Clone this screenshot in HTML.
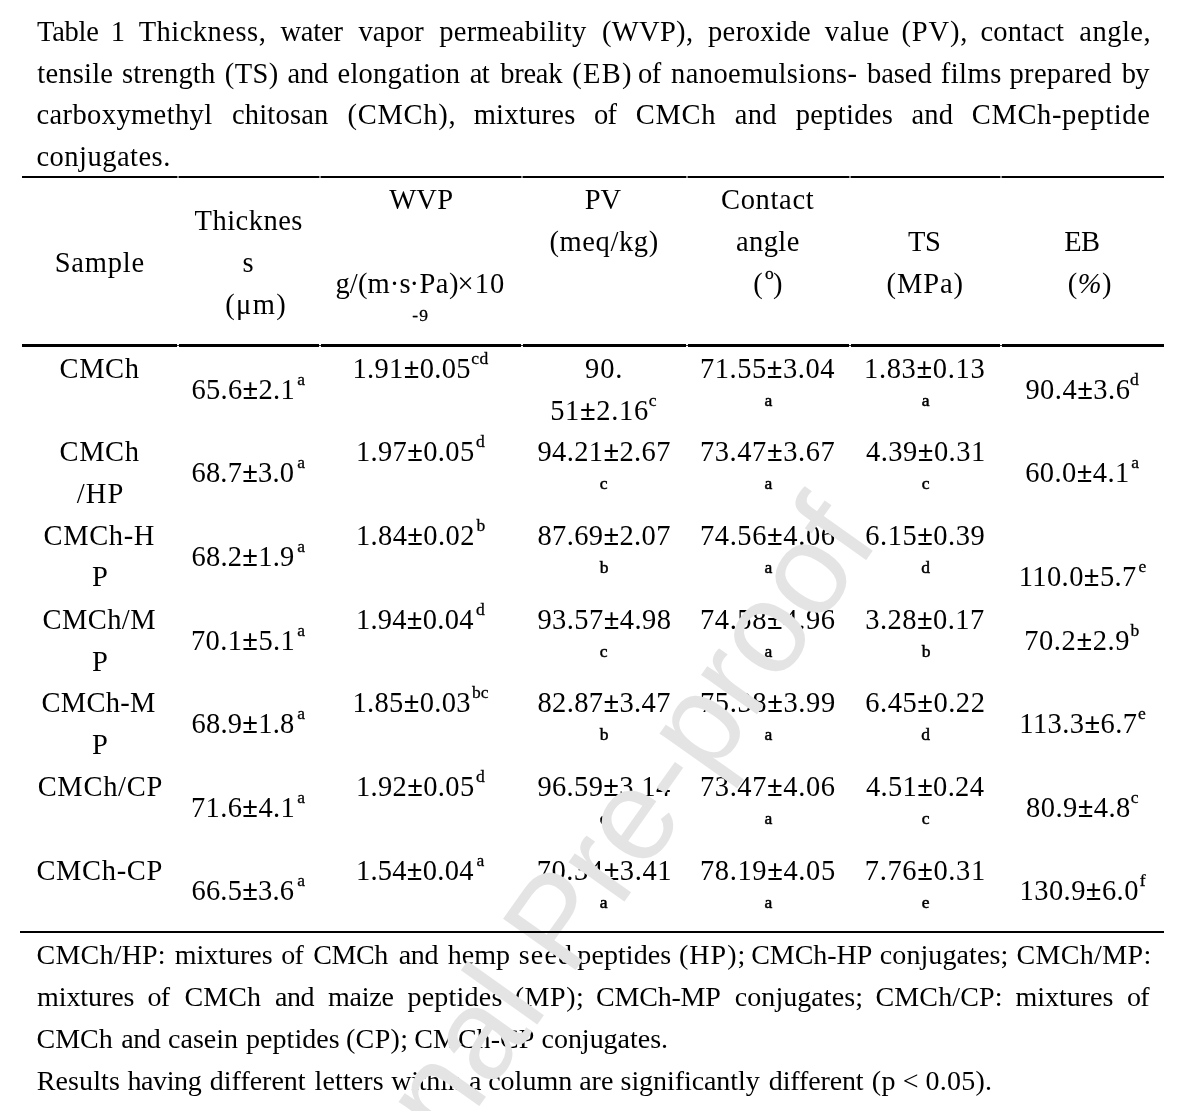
<!DOCTYPE html>
<html><head><meta charset="utf-8"><title>Table 1</title>
<style>
html,body{margin:0;padding:0;background:#fff;}
body{width:1179px;height:1111px;position:relative;overflow:hidden;font-family:"Liberation Serif",serif;color:#000;}
.t{position:absolute;white-space:pre;line-height:1;}
#pg{position:absolute;left:0;top:0;width:1179px;height:1111px;overflow:hidden;will-change:transform;filter:grayscale(1);background:#fff;}
.r{position:absolute;background:#000;z-index:3;}
.wm{position:absolute;white-space:pre;line-height:1;font-family:"Liberation Sans",sans-serif;z-index:2;transform-origin:50% 50%;}
.t{z-index:1;}
</style></head><body><div id="pg">
<span class="t" style="left:37.00px;top:18.00px;font-size:28.5px;letter-spacing:-0.275px;">Table</span>
<span class="t" style="left:110.70px;top:18.00px;font-size:28.5px;">1</span>
<span class="t" style="left:138.70px;top:18.00px;font-size:28.5px;letter-spacing:0.489px;">Thickness,</span>
<span class="t" style="left:280.40px;top:18.00px;font-size:28.5px;letter-spacing:-0.150px;">water</span>
<span class="t" style="left:358.40px;top:18.00px;font-size:28.5px;letter-spacing:0.113px;">vapor</span>
<span class="t" style="left:439.20px;top:18.00px;font-size:28.5px;letter-spacing:0.273px;">permeability</span>
<span class="t" style="left:601.95px;top:18.00px;font-size:28.5px;letter-spacing:0.340px;">(WVP),</span>
<span class="t" style="left:707.90px;top:18.00px;font-size:28.5px;letter-spacing:0.450px;">peroxide</span>
<span class="t" style="left:824.80px;top:18.00px;font-size:28.5px;letter-spacing:0.663px;">value</span>
<span class="t" style="left:901.55px;top:18.00px;font-size:28.5px;letter-spacing:0.825px;">(PV),</span>
<span class="t" style="left:980.50px;top:18.00px;font-size:28.5px;letter-spacing:0.208px;">contact</span>
<span class="t" style="left:1079.30px;top:18.00px;font-size:28.5px;letter-spacing:0.500px;">angle,</span>
<span class="t" style="left:37.25px;top:60.00px;font-size:28.5px;letter-spacing:0.225px;">tensile</span>
<span class="t" style="left:122.05px;top:60.00px;font-size:28.5px;letter-spacing:0.193px;">strength</span>
<span class="t" style="left:224.85px;top:60.00px;font-size:28.5px;letter-spacing:0.383px;">(TS)</span>
<span class="t" style="left:287.50px;top:60.00px;font-size:28.5px;letter-spacing:-0.175px;">and</span>
<span class="t" style="left:337.60px;top:60.00px;font-size:28.5px;letter-spacing:0.222px;">elongation</span>
<span class="t" style="left:469.70px;top:60.00px;font-size:28.5px;letter-spacing:-0.600px;">at</span>
<span class="t" style="left:500.30px;top:60.00px;font-size:28.5px;letter-spacing:-0.288px;">break</span>
<span class="t" style="left:572.35px;top:60.00px;font-size:28.5px;letter-spacing:1.233px;">(EB)</span>
<span class="t" style="left:638.02px;top:60.00px;font-size:28.5px;letter-spacing:-0.600px;">of</span>
<span class="t" style="left:671.00px;top:60.00px;font-size:28.5px;letter-spacing:0.431px;">nanoemulsions-</span>
<span class="t" style="left:867.00px;top:60.00px;font-size:28.5px;letter-spacing:-0.050px;">based</span>
<span class="t" style="left:940.65px;top:60.00px;font-size:28.5px;letter-spacing:0.537px;">films</span>
<span class="t" style="left:1009.50px;top:60.00px;font-size:28.5px;letter-spacing:0.321px;">prepared</span>
<span class="t" style="left:1121.65px;top:60.00px;font-size:28.5px;letter-spacing:-0.600px;">by</span>
<span class="t" style="left:36.50px;top:101.00px;font-size:28.5px;letter-spacing:0.392px;">carboxymethyl</span>
<span class="t" style="left:231.90px;top:101.00px;font-size:28.5px;letter-spacing:0.214px;">chitosan</span>
<span class="t" style="left:347.55px;top:101.00px;font-size:28.5px;letter-spacing:0.708px;">(CMCh),</span>
<span class="t" style="left:473.70px;top:101.00px;font-size:28.5px;letter-spacing:0.264px;">mixtures</span>
<span class="t" style="left:593.92px;top:101.00px;font-size:28.5px;letter-spacing:-0.600px;">of</span>
<span class="t" style="left:635.75px;top:101.00px;font-size:28.5px;letter-spacing:0.733px;">CMCh</span>
<span class="t" style="left:734.80px;top:101.00px;font-size:28.5px;letter-spacing:0.225px;">and</span>
<span class="t" style="left:795.80px;top:101.00px;font-size:28.5px;letter-spacing:0.286px;">peptides</span>
<span class="t" style="left:911.50px;top:101.00px;font-size:28.5px;letter-spacing:0.225px;">and</span>
<span class="t" style="left:971.75px;top:101.00px;font-size:28.5px;letter-spacing:0.650px;">CMCh-peptide</span>
<span class="t" style="left:36.50px;top:143.00px;font-size:28.5px;letter-spacing:0.475px;">conjugates.</span>
<span class="t" style="left:54.70px;top:249.00px;font-size:28.5px;letter-spacing:0.800px;">Sample</span>
<span class="t" style="left:194.60px;top:207.00px;font-size:28.5px;letter-spacing:0.471px;">Thicknes</span>
<span class="t" style="left:242.62px;top:249.00px;font-size:28.5px;">s</span>
<span class="t" style="left:225.30px;top:291.00px;font-size:28.5px;letter-spacing:1.300px;">(μm)</span>
<span class="t" style="left:389.20px;top:186.00px;font-size:28.5px;letter-spacing:0.275px;">WVP</span>
<span class="t" style="left:335.45px;top:270.00px;font-size:28.5px;letter-spacing:0.150px;">g/(m·s</span>
<span class="t" style="left:409.60px;top:270.00px;font-size:28.5px;letter-spacing:0.450px;">·Pa)</span>
<span class="t" style="left:457.55px;top:270.00px;font-size:28.5px;letter-spacing:1.125px;">×10</span>
<span class="t" style="left:412.30px;top:307.00px;font-size:17.5px;letter-spacing:1.200px;-webkit-text-stroke:0.3px #000;">-9</span>
<span class="t" style="left:584.75px;top:186.00px;font-size:28.5px;letter-spacing:-0.200px;">PV</span>
<span class="t" style="left:549.45px;top:228.00px;font-size:28.5px;letter-spacing:0.614px;">(meq/kg)</span>
<span class="t" style="left:721.05px;top:186.00px;font-size:28.5px;letter-spacing:0.658px;">Contact</span>
<span class="t" style="left:735.90px;top:228.00px;font-size:28.5px;letter-spacing:0.438px;">angle</span>
<span class="t" style="left:753.33px;top:270.00px;font-size:28.5px;">(</span>
<span class="t" style="left:764.92px;top:265.00px;font-size:17.5px;-webkit-text-stroke:0.3px #000;">o</span>
<span class="t" style="left:773.08px;top:270.00px;font-size:28.5px;">)</span>
<span class="t" style="left:908.00px;top:228.00px;font-size:28.5px;letter-spacing:-0.300px;">TS</span>
<span class="t" style="left:886.55px;top:270.00px;font-size:28.5px;letter-spacing:0.888px;">(MPa)</span>
<span class="t" style="left:1064.17px;top:228.00px;font-size:28.5px;letter-spacing:-0.600px;">EB</span>
<span class="t" style="left:1067.75px;top:270.00px;font-size:28.5px;letter-spacing:0.525px;">(<i>%</i>)</span>
<span class="t" style="left:59.55px;top:355.00px;font-size:28.5px;letter-spacing:0.600px;">CMCh</span>
<span class="t" style="left:191.45px;top:376.00px;font-size:28.5px;letter-spacing:0.307px;">65.6<b>±</b>2.1</span>
<span class="t" style="left:297.27px;top:371.00px;font-size:17.5px;-webkit-text-stroke:0.3px #000;">a</span>
<span class="t" style="left:352.50px;top:355.00px;font-size:28.5px;letter-spacing:0.331px;">1.91<b>±</b>0.05</span>
<span class="t" style="left:471.30px;top:350.00px;font-size:17.5px;letter-spacing:0.400px;-webkit-text-stroke:0.3px #000;">cd</span>
<span class="t" style="left:585.00px;top:355.00px;font-size:28.5px;letter-spacing:0.925px;">90.</span>
<span class="t" style="left:550.15px;top:397.00px;font-size:28.5px;letter-spacing:0.667px;">51<b>±</b>2.16</span>
<span class="t" style="left:648.75px;top:392.00px;font-size:17.5px;-webkit-text-stroke:0.3px #000;">c</span>
<span class="t" style="left:699.95px;top:355.00px;font-size:28.5px;letter-spacing:0.544px;">71.55<b>±</b>3.04</span>
<span class="t" style="left:764.50px;top:392.00px;font-size:17.5px;-webkit-text-stroke:0.5px #000;">a</span>
<span class="t" style="left:864.00px;top:355.00px;font-size:28.5px;letter-spacing:0.656px;">1.83<b>±</b>0.13</span>
<span class="t" style="left:921.80px;top:392.00px;font-size:17.5px;-webkit-text-stroke:0.5px #000;">a</span>
<span class="t" style="left:1025.40px;top:376.00px;font-size:28.5px;letter-spacing:0.479px;">90.4<b>±</b>3.6</span>
<span class="t" style="left:1129.88px;top:371.00px;font-size:17.5px;-webkit-text-stroke:0.3px #000;">d</span>
<span class="t" style="left:59.55px;top:438.00px;font-size:28.5px;letter-spacing:0.600px;">CMCh</span>
<span class="t" style="left:76.80px;top:480.00px;font-size:28.5px;letter-spacing:1.075px;">/HP</span>
<span class="t" style="left:191.45px;top:459.00px;font-size:28.5px;letter-spacing:0.200px;">68.7<b>±</b>3.0</span>
<span class="t" style="left:297.27px;top:454.00px;font-size:17.5px;-webkit-text-stroke:0.3px #000;">a</span>
<span class="t" style="left:355.90px;top:438.00px;font-size:28.5px;letter-spacing:0.356px;">1.97<b>±</b>0.05</span>
<span class="t" style="left:475.88px;top:433.00px;font-size:17.5px;-webkit-text-stroke:0.3px #000;">d</span>
<span class="t" style="left:537.40px;top:438.00px;font-size:28.5px;letter-spacing:0.378px;">94.21<b>±</b>2.67</span>
<span class="t" style="left:599.75px;top:475.00px;font-size:17.5px;-webkit-text-stroke:0.5px #000;">c</span>
<span class="t" style="left:699.95px;top:438.00px;font-size:28.5px;letter-spacing:0.572px;">73.47<b>±</b>3.67</span>
<span class="t" style="left:764.50px;top:475.00px;font-size:17.5px;-webkit-text-stroke:0.5px #000;">a</span>
<span class="t" style="left:866.00px;top:438.00px;font-size:28.5px;letter-spacing:0.469px;">4.39<b>±</b>0.31</span>
<span class="t" style="left:921.80px;top:475.00px;font-size:17.5px;-webkit-text-stroke:0.5px #000;">c</span>
<span class="t" style="left:1025.15px;top:459.00px;font-size:28.5px;letter-spacing:0.436px;">60.0<b>±</b>4.1</span>
<span class="t" style="left:1131.33px;top:454.00px;font-size:17.5px;-webkit-text-stroke:0.3px #000;">a</span>
<span class="t" style="left:43.55px;top:522.00px;font-size:28.5px;letter-spacing:0.640px;">CMCh-H</span>
<span class="t" style="left:92.05px;top:563.00px;font-size:28.5px;">P</span>
<span class="t" style="left:191.45px;top:543.00px;font-size:28.5px;letter-spacing:0.236px;">68.2<b>±</b>1.9</span>
<span class="t" style="left:297.27px;top:538.00px;font-size:17.5px;-webkit-text-stroke:0.3px #000;">a</span>
<span class="t" style="left:355.90px;top:522.00px;font-size:28.5px;letter-spacing:0.388px;">1.84<b>±</b>0.02</span>
<span class="t" style="left:476.50px;top:517.00px;font-size:17.5px;-webkit-text-stroke:0.3px #000;">b</span>
<span class="t" style="left:537.40px;top:522.00px;font-size:28.5px;letter-spacing:0.378px;">87.69<b>±</b>2.07</span>
<span class="t" style="left:599.75px;top:559.00px;font-size:17.5px;-webkit-text-stroke:0.5px #000;">b</span>
<span class="t" style="left:699.95px;top:522.00px;font-size:28.5px;letter-spacing:0.600px;">74.56<b>±</b>4.06</span>
<span class="t" style="left:764.50px;top:559.00px;font-size:17.5px;-webkit-text-stroke:0.5px #000;">a</span>
<span class="t" style="left:865.25px;top:522.00px;font-size:28.5px;letter-spacing:0.500px;">6.15<b>±</b>0.39</span>
<span class="t" style="left:921.30px;top:559.00px;font-size:17.5px;-webkit-text-stroke:0.5px #000;">d</span>
<span class="t" style="left:1018.70px;top:563.00px;font-size:28.5px;letter-spacing:0.412px;">110.0<b>±</b>5.7</span>
<span class="t" style="left:1138.47px;top:558.00px;font-size:17.5px;-webkit-text-stroke:0.3px #000;">e</span>
<span class="t" style="left:42.45px;top:606.00px;font-size:28.5px;letter-spacing:0.450px;">CMCh/M</span>
<span class="t" style="left:92.05px;top:648.00px;font-size:28.5px;">P</span>
<span class="t" style="left:190.95px;top:627.00px;font-size:28.5px;letter-spacing:0.379px;">70.1<b>±</b>5.1</span>
<span class="t" style="left:297.27px;top:622.00px;font-size:17.5px;-webkit-text-stroke:0.3px #000;">a</span>
<span class="t" style="left:355.90px;top:606.00px;font-size:28.5px;letter-spacing:0.263px;">1.94<b>±</b>0.04</span>
<span class="t" style="left:475.88px;top:601.00px;font-size:17.5px;-webkit-text-stroke:0.3px #000;">d</span>
<span class="t" style="left:537.40px;top:606.00px;font-size:28.5px;letter-spacing:0.433px;">93.57<b>±</b>4.98</span>
<span class="t" style="left:599.75px;top:643.00px;font-size:17.5px;-webkit-text-stroke:0.5px #000;">c</span>
<span class="t" style="left:699.95px;top:606.00px;font-size:28.5px;letter-spacing:0.600px;">74.58<b>±</b>4.96</span>
<span class="t" style="left:764.50px;top:643.00px;font-size:17.5px;-webkit-text-stroke:0.5px #000;">a</span>
<span class="t" style="left:865.25px;top:606.00px;font-size:28.5px;letter-spacing:0.438px;">3.28<b>±</b>0.17</span>
<span class="t" style="left:921.80px;top:643.00px;font-size:17.5px;-webkit-text-stroke:0.5px #000;">b</span>
<span class="t" style="left:1024.15px;top:627.00px;font-size:28.5px;letter-spacing:0.607px;">70.2<b>±</b>2.9</span>
<span class="t" style="left:1130.40px;top:622.00px;font-size:17.5px;-webkit-text-stroke:0.3px #000;">b</span>
<span class="t" style="left:41.45px;top:689.00px;font-size:28.5px;letter-spacing:0.300px;">CMCh-M</span>
<span class="t" style="left:92.05px;top:731.00px;font-size:28.5px;">P</span>
<span class="t" style="left:191.45px;top:710.00px;font-size:28.5px;letter-spacing:0.236px;">68.9<b>±</b>1.8</span>
<span class="t" style="left:297.27px;top:705.00px;font-size:17.5px;-webkit-text-stroke:0.3px #000;">a</span>
<span class="t" style="left:352.50px;top:689.00px;font-size:28.5px;letter-spacing:0.331px;">1.85<b>±</b>0.03</span>
<span class="t" style="left:472.05px;top:684.00px;font-size:17.5px;letter-spacing:-0.100px;-webkit-text-stroke:0.3px #000;">bc</span>
<span class="t" style="left:537.40px;top:689.00px;font-size:28.5px;letter-spacing:0.378px;">82.87<b>±</b>3.47</span>
<span class="t" style="left:599.75px;top:726.00px;font-size:17.5px;-webkit-text-stroke:0.5px #000;">b</span>
<span class="t" style="left:699.95px;top:689.00px;font-size:28.5px;letter-spacing:0.628px;">75.38<b>±</b>3.99</span>
<span class="t" style="left:764.50px;top:726.00px;font-size:17.5px;-webkit-text-stroke:0.5px #000;">a</span>
<span class="t" style="left:865.25px;top:689.00px;font-size:28.5px;letter-spacing:0.531px;">6.45<b>±</b>0.22</span>
<span class="t" style="left:921.30px;top:726.00px;font-size:17.5px;-webkit-text-stroke:0.5px #000;">d</span>
<span class="t" style="left:1019.30px;top:710.00px;font-size:28.5px;letter-spacing:0.425px;">113.3<b>±</b>6.7</span>
<span class="t" style="left:1138.03px;top:705.00px;font-size:17.5px;-webkit-text-stroke:0.3px #000;">e</span>
<span class="t" style="left:37.65px;top:773.00px;font-size:28.5px;letter-spacing:0.717px;">CMCh/CP</span>
<span class="t" style="left:190.95px;top:794.00px;font-size:28.5px;letter-spacing:0.379px;">71.6<b>±</b>4.1</span>
<span class="t" style="left:297.27px;top:789.00px;font-size:17.5px;-webkit-text-stroke:0.3px #000;">a</span>
<span class="t" style="left:355.90px;top:773.00px;font-size:28.5px;letter-spacing:0.356px;">1.92<b>±</b>0.05</span>
<span class="t" style="left:475.88px;top:768.00px;font-size:17.5px;-webkit-text-stroke:0.3px #000;">d</span>
<span class="t" style="left:537.40px;top:773.00px;font-size:28.5px;letter-spacing:0.350px;">96.59<b>±</b>3.14</span>
<span class="t" style="left:599.75px;top:810.00px;font-size:17.5px;-webkit-text-stroke:0.5px #000;">c</span>
<span class="t" style="left:699.95px;top:773.00px;font-size:28.5px;letter-spacing:0.600px;">73.47<b>±</b>4.06</span>
<span class="t" style="left:764.50px;top:810.00px;font-size:17.5px;-webkit-text-stroke:0.5px #000;">a</span>
<span class="t" style="left:866.00px;top:773.00px;font-size:28.5px;letter-spacing:0.312px;">4.51<b>±</b>0.24</span>
<span class="t" style="left:921.80px;top:810.00px;font-size:17.5px;-webkit-text-stroke:0.5px #000;">c</span>
<span class="t" style="left:1026.00px;top:794.00px;font-size:28.5px;letter-spacing:0.443px;">80.9<b>±</b>4.8</span>
<span class="t" style="left:1130.75px;top:789.00px;font-size:17.5px;-webkit-text-stroke:0.3px #000;">c</span>
<span class="t" style="left:36.45px;top:857.00px;font-size:28.5px;letter-spacing:0.667px;">CMCh-CP</span>
<span class="t" style="left:191.45px;top:877.00px;font-size:28.5px;letter-spacing:0.200px;">66.5<b>±</b>3.6</span>
<span class="t" style="left:297.27px;top:872.00px;font-size:17.5px;-webkit-text-stroke:0.3px #000;">a</span>
<span class="t" style="left:355.90px;top:857.00px;font-size:28.5px;letter-spacing:0.263px;">1.54<b>±</b>0.04</span>
<span class="t" style="left:476.38px;top:852.00px;font-size:17.5px;-webkit-text-stroke:0.3px #000;">a</span>
<span class="t" style="left:536.65px;top:857.00px;font-size:28.5px;letter-spacing:0.572px;">70.34<b>±</b>3.41</span>
<span class="t" style="left:599.75px;top:894.00px;font-size:17.5px;-webkit-text-stroke:0.5px #000;">a</span>
<span class="t" style="left:699.95px;top:857.00px;font-size:28.5px;letter-spacing:0.628px;">78.19<b>±</b>4.05</span>
<span class="t" style="left:764.50px;top:894.00px;font-size:17.5px;-webkit-text-stroke:0.5px #000;">a</span>
<span class="t" style="left:864.75px;top:857.00px;font-size:28.5px;letter-spacing:0.625px;">7.76<b>±</b>0.31</span>
<span class="t" style="left:921.80px;top:894.00px;font-size:17.5px;-webkit-text-stroke:0.5px #000;">e</span>
<span class="t" style="left:1019.50px;top:877.00px;font-size:28.5px;letter-spacing:0.438px;">130.9<b>±</b>6.0</span>
<span class="t" style="left:1139.82px;top:872.00px;font-size:17.5px;-webkit-text-stroke:0.3px #000;">f</span>
<span class="t" style="left:36.50px;top:941.00px;font-size:28px;letter-spacing:0.221px;">CMCh/HP:</span>
<span class="t" style="left:174.70px;top:941.00px;font-size:28px;letter-spacing:-0.014px;">mixtures</span>
<span class="t" style="left:281.13px;top:941.00px;font-size:28px;letter-spacing:-0.600px;">of</span>
<span class="t" style="left:313.30px;top:941.00px;font-size:28px;letter-spacing:-0.467px;">CMCh</span>
<span class="t" style="left:398.70px;top:941.00px;font-size:28px;letter-spacing:-0.275px;">and</span>
<span class="t" style="left:447.65px;top:941.00px;font-size:28px;letter-spacing:0.083px;">hemp</span>
<span class="t" style="left:518.80px;top:941.00px;font-size:28px;letter-spacing:1.133px;">seed</span>
<span class="t" style="left:577.30px;top:941.00px;font-size:28px;letter-spacing:0.079px;">peptides</span>
<span class="t" style="left:679.05px;top:941.00px;font-size:28px;letter-spacing:0.988px;">(HP);</span>
<span class="t" style="left:751.20px;top:941.00px;font-size:28px;letter-spacing:-0.058px;">CMCh-HP</span>
<span class="t" style="left:879.80px;top:941.00px;font-size:28px;letter-spacing:0.090px;">conjugates;</span>
<span class="t" style="left:1016.40px;top:941.00px;font-size:28px;letter-spacing:0.357px;">CMCh/MP:</span>
<span class="t" style="left:37.00px;top:983.00px;font-size:28px;letter-spacing:-0.071px;">mixtures</span>
<span class="t" style="left:147.43px;top:983.00px;font-size:28px;letter-spacing:-0.600px;">of</span>
<span class="t" style="left:184.40px;top:983.00px;font-size:28px;letter-spacing:0.100px;">CMCh</span>
<span class="t" style="left:275.00px;top:983.00px;font-size:28px;letter-spacing:-0.475px;">and</span>
<span class="t" style="left:328.10px;top:983.00px;font-size:28px;letter-spacing:-0.275px;">maize</span>
<span class="t" style="left:407.50px;top:983.00px;font-size:28px;letter-spacing:0.221px;">peptides</span>
<span class="t" style="left:514.75px;top:983.00px;font-size:28px;letter-spacing:0.550px;">(MP);</span>
<span class="t" style="left:596.00px;top:983.00px;font-size:28px;letter-spacing:-0.200px;">CMCh-MP</span>
<span class="t" style="left:734.80px;top:983.00px;font-size:28px;letter-spacing:0.060px;">conjugates;</span>
<span class="t" style="left:875.50px;top:983.00px;font-size:28px;letter-spacing:0.150px;">CMCh/CP:</span>
<span class="t" style="left:1015.40px;top:983.00px;font-size:28px;">mixtures</span>
<span class="t" style="left:1126.88px;top:983.00px;font-size:28px;letter-spacing:-0.600px;">of</span>
<span class="t" style="left:36.50px;top:1025.00px;font-size:28px;letter-spacing:-0.033px;">CMCh</span>
<span class="t" style="left:121.30px;top:1025.00px;font-size:28px;letter-spacing:-0.475px;">and</span>
<span class="t" style="left:168.10px;top:1025.00px;font-size:28px;">casein</span>
<span class="t" style="left:246.00px;top:1025.00px;font-size:28px;letter-spacing:0.064px;">peptides</span>
<span class="t" style="left:345.95px;top:1025.00px;font-size:28px;letter-spacing:0.362px;">(CP);</span>
<span class="t" style="left:414.20px;top:1025.00px;font-size:28px;letter-spacing:0.058px;">CMCh-CP</span>
<span class="t" style="left:541.50px;top:1025.00px;font-size:28px;letter-spacing:-0.020px;">conjugates.</span>
<span class="t" style="left:36.75px;top:1067.00px;font-size:28px;letter-spacing:0.108px;">Results</span>
<span class="t" style="left:127.45px;top:1067.00px;font-size:28px;letter-spacing:-0.380px;">having</span>
<span class="t" style="left:209.80px;top:1067.00px;font-size:28px;letter-spacing:-0.006px;">different</span>
<span class="t" style="left:314.50px;top:1067.00px;font-size:28px;letter-spacing:0.133px;">letters</span>
<span class="t" style="left:391.20px;top:1067.00px;font-size:28px;letter-spacing:-0.210px;">within</span>
<span class="t" style="left:469.00px;top:1067.00px;font-size:28px;">a</span>
<span class="t" style="left:488.20px;top:1067.00px;font-size:28px;">column</span>
<span class="t" style="left:579.20px;top:1067.00px;font-size:28px;letter-spacing:-0.025px;">are</span>
<span class="t" style="left:620.60px;top:1067.00px;font-size:28px;letter-spacing:-0.075px;">significantly</span>
<span class="t" style="left:768.80px;top:1067.00px;font-size:28px;letter-spacing:-0.131px;">different</span>
<span class="t" style="left:871.75px;top:1067.00px;font-size:28px;letter-spacing:0.400px;">(p</span>
<span class="t" style="left:902.67px;top:1067.00px;font-size:28px;">&lt;</span>
<span class="t" style="left:925.60px;top:1067.00px;font-size:28px;letter-spacing:0.200px;">0.05).</span>
<div class="wm" style="left:555.9px;top:920.8px;font-size:129px;color:#e4e4e4;letter-spacing:0px;transform:translate(-50%,-50%) rotate(-54.7deg);">Journal Pre-proof</div>
<div class="r" style="left:22px;top:176px;width:155px;height:2px"></div>
<div class="r" style="left:179px;top:176px;width:140px;height:2px"></div>
<div class="r" style="left:321px;top:176px;width:200px;height:2px"></div>
<div class="r" style="left:523px;top:176px;width:163px;height:2px"></div>
<div class="r" style="left:688px;top:176px;width:161px;height:2px"></div>
<div class="r" style="left:851px;top:176px;width:149px;height:2px"></div>
<div class="r" style="left:1002px;top:176px;width:162px;height:2px"></div>
<div class="r" style="left:177px;top:176px;width:2px;height:2px;background:#8a8a8a"></div>
<div class="r" style="left:319px;top:176px;width:2px;height:2px;background:#8a8a8a"></div>
<div class="r" style="left:521px;top:176px;width:2px;height:2px;background:#8a8a8a"></div>
<div class="r" style="left:686px;top:176px;width:2px;height:2px;background:#8a8a8a"></div>
<div class="r" style="left:849px;top:176px;width:2px;height:2px;background:#8a8a8a"></div>
<div class="r" style="left:1000px;top:176px;width:2px;height:2px;background:#8a8a8a"></div>
<div class="r" style="left:22px;top:344px;width:155px;height:3px"></div>
<div class="r" style="left:179px;top:344px;width:140px;height:3px"></div>
<div class="r" style="left:321px;top:344px;width:200px;height:3px"></div>
<div class="r" style="left:523px;top:344px;width:163px;height:3px"></div>
<div class="r" style="left:688px;top:344px;width:161px;height:3px"></div>
<div class="r" style="left:851px;top:344px;width:149px;height:3px"></div>
<div class="r" style="left:1002px;top:344px;width:162px;height:3px"></div>
<div class="r" style="left:177px;top:345px;width:2px;height:1px;background:#3a3a3a"></div>
<div class="r" style="left:319px;top:345px;width:2px;height:1px;background:#3a3a3a"></div>
<div class="r" style="left:521px;top:345px;width:2px;height:1px;background:#3a3a3a"></div>
<div class="r" style="left:686px;top:345px;width:2px;height:1px;background:#3a3a3a"></div>
<div class="r" style="left:849px;top:345px;width:2px;height:1px;background:#3a3a3a"></div>
<div class="r" style="left:1000px;top:345px;width:2px;height:1px;background:#3a3a3a"></div>
<div class="r" style="left:20px;top:931px;width:1144px;height:2px"></div>
</div></body></html>
